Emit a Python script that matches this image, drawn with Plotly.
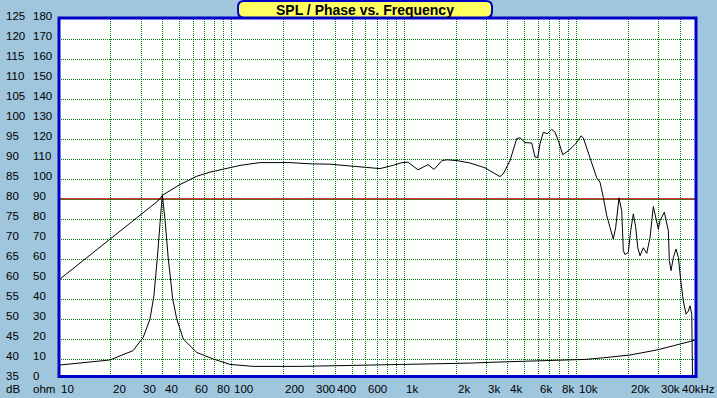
import numpy as np
import plotly.graph_objects as go

# ---------------- data ----------------
spl_freq = [10, 20.0, 29.4, 37.4, 40.0, 50.2, 63.0, 74.9, 112, 146, 218, 285, 372, 519, 725, 862, 972,
            1054, 1204, 1376, 1491, 1659, 1773, 2026, 2410, 2944, 3597, 3759, 4111, 4496, 4698, 5022,
            5492, 5740, 5950, 6135, 6412, 6765, 7175, 7498, 7835, 8306, 8951, 10014, 10605, 10935,
            11444, 11958, 13076, 13667, 14283, 14945, 15617, 16320, 16851, 17610, 18256, 18650, 19080,
            19940, 20590, 21320, 22010, 22610, 23310, 24360, 25500, 26640, 27840, 28750, 29760, 30440,
            32240, 34010, 34470, 35260, 36360, 37700, 38880, 40140, 41560, 43080, 44420, 45440, 46490,
            46990]
spl_db = [59.8, 70.1, 76.0, 79.5, 81.0, 83.6, 85.7, 86.7, 88.4, 89.1, 89.1, 88.8, 88.7, 88.1, 87.6, 88.4,
          89.1, 89.2, 87.3, 88.6, 87.4, 89.6, 89.8, 89.6, 89.0, 87.8, 85.6, 86.3, 89.6, 95.1, 95.3, 94.1,
          94.0, 90.5, 90.4, 93.8, 96.7, 96.3, 97.4, 96.7, 94.6, 91.1, 92.0, 94.1, 95.8, 95.3, 93.0, 90.3,
          85.3, 84.2, 80.4, 75.9, 72.9, 70.0, 72.9, 80.3, 77.1, 67.1, 66.1, 66.7, 72.1, 76.3, 72.9, 67.9,
          65.8, 67.8, 66.4, 70.4, 78.1, 75.4, 72.5, 74.6, 76.7, 72.1, 64.6, 62.1, 65.4, 67.5, 65.4, 59.6,
          54.5, 51.2, 52.0, 53.3, 51.2, 35.0]

imp_freq = [10.1, 19.7, 26.9, 30.8, 33.7, 35.5, 37.1, 38.5, 39.7, 41.1, 43.0, 45.6, 48.1, 52.5, 62.8,
            78.3, 97.9, 133.6, 249, 505, 862, 1237, 2410, 3597, 5872, 8760, 11190, 14280, 20400, 29130,
            39770, 48580]
imp_ohm = [7.0, 9.5, 14.2, 20.9, 30.1, 41.7, 60.1, 80.2, 92.2, 80.2, 60.1, 40.1, 30.1, 20.0, 13.3,
           10.0, 7.3, 6.3, 6.3, 6.8, 7.1, 7.6, 7.95, 8.5, 9.0, 9.3, 9.8, 10.6, 12.0, 14.5, 17.7, 19.4]

x_grid = [m * 10 ** e for e in range(1, 5) for m in range(1, 10) if m * 10 ** e <= 40000]
x_label_vals = [10, 20, 30, 40, 60, 80, 100, 200, 300, 400, 600, 1000, 2000, 3000, 4000, 6000, 8000,
                10000, 20000, 30000, 40000]
x_label_text = ["10", "20", "30", "40", "60", "80", "100", "200", "300", "400", "600", "1k", "2k", "3k",
                "4k", "6k", "8k", "10k", "20k", "30k", "40kHz"]
db_ticks = list(range(35, 130, 5))
ohm_ticks = list(range(0, 190, 10))
title_text = "SPL / Phase vs. Frequency"

# ---------------- style ----------------
W, H = 717, 398
L, R, T, B = 59, 21, 19, 19
PW, PH = W - L - R, H - T - B
BG = "#A0C6DE"
GRID = "#008000"
FONT = "Liberation Sans"
FS = 11.5


def px_x(px):
    return (px - L) / PW


def px_y(py):
    return (H - B - py) / PH


fig = go.Figure()
fig.add_trace(go.Scatter(x=spl_freq, y=spl_db, mode="lines",
                         line=dict(color="black", width=1), yaxis="y", hoverinfo="skip"))
fig.add_trace(go.Scatter(x=imp_freq, y=imp_ohm, mode="lines",
                         line=dict(color="black", width=1), yaxis="y2", hoverinfo="skip"))

annotations = []
for v, t in zip(x_label_vals, x_label_text):
    annotations.append(dict(x=np.log10(v), xref="x", y=px_y(389.5), yref="paper", text=t,
                            showarrow=False, xanchor="left", yanchor="middle",
                            font=dict(family=FONT, size=FS, color="black")))
for v in db_ticks:
    annotations.append(dict(x=px_x(3.5), xref="paper", y=v, yref="y", text=str(v), showarrow=False,
                            xanchor="left", yanchor="middle", yshift=3.5,
                            font=dict(family=FONT, size=FS, color="black")))
for v in ohm_ticks:
    annotations.append(dict(x=px_x(31), xref="paper", y=v, yref="y2", text=str(v), showarrow=False,
                            xanchor="left", yanchor="middle", yshift=3.5,
                            font=dict(family=FONT, size=FS, color="black")))
annotations.append(dict(x=px_x(3.5), xref="paper", y=px_y(389.5), yref="paper", text="dB",
                        showarrow=False, xanchor="left", yanchor="middle",
                        font=dict(family=FONT, size=FS, color="black")))
annotations.append(dict(x=px_x(31), xref="paper", y=px_y(389.5), yref="paper", text="ohm",
                        showarrow=False, xanchor="left", yanchor="middle",
                        font=dict(family=FONT, size=FS, color="black")))
annotations.append(dict(x=px_x(365), xref="paper", y=px_y(9.5), yref="paper",
                        text="<b>" + title_text + "</b>", showarrow=False,
                        xanchor="center", yanchor="middle",
                        font=dict(family=FONT, size=14, color="black")))

# rounded title box path in paper coords
bx0, bx1, by0, by1 = px_x(238), px_x(492), px_y(17.5), px_y(1)
rx, ry = 6 / PW, 6 / PH
box_path = (f"M {bx0+rx},{by1} L {bx1-rx},{by1} Q {bx1},{by1} {bx1},{by1-ry} "
            f"L {bx1},{by0+ry} Q {bx1},{by0} {bx1-rx},{by0} L {bx0+rx},{by0} "
            f"Q {bx0},{by0} {bx0},{by0+ry} L {bx0},{by1-ry} Q {bx0},{by1} {bx0+rx},{by1} Z")

shapes = [
    dict(type="line", xref="paper", x0=0, x1=1, yref="y", y0=80, y1=80,
         line=dict(color="#C00000", width=1.5), layer="between"),
    dict(type="rect", xref="paper", yref="paper", x0=0, x1=1, y0=px_y(376.5), y1=px_y(18),
         line=dict(color="#0000C8", width=3), layer="above"),
    dict(type="rect", xref="paper", yref="paper", x0=px_x(57), x1=px_x(698), y0=px_y(398),
         y1=px_y(378), fillcolor=BG, line=dict(width=0), layer="above"),
    dict(type="path", xref="paper", yref="paper", path=box_path,
         fillcolor="#FFFF60", line=dict(color="#0000C8", width=2), layer="above"),
]

fig.update_layout(
    width=W, height=H, autosize=False,
    margin=dict(l=L, r=R, t=T, b=B, pad=0),
    paper_bgcolor=BG, plot_bgcolor="white",
    showlegend=False,
    xaxis=dict(type="log", range=[1, np.log10(49200)], tickvals=x_grid, showticklabels=False,
               ticks="", showgrid=True, gridcolor=GRID, gridwidth=1, griddash="1px,1px",
               zeroline=False, showline=False, fixedrange=True),
    yaxis=dict(range=[35, 125], tickvals=[v for v in db_ticks if 35 < v < 125],
               showticklabels=False, ticks="", showgrid=True, gridcolor=GRID, gridwidth=1,
               griddash="1px,1px", zeroline=False, showline=False, fixedrange=True),
    yaxis2=dict(range=[0, 180], overlaying="y", showticklabels=False, showgrid=False,
                zeroline=False, showline=False, ticks="", fixedrange=True),
    annotations=annotations,
    shapes=shapes,
)

fig.write_html("out.html", config={"displayModeBar": False},
               post_script="document.body.style.margin='0';document.body.style.padding='0';"
                           "document.body.style.background='" + BG + "';")
